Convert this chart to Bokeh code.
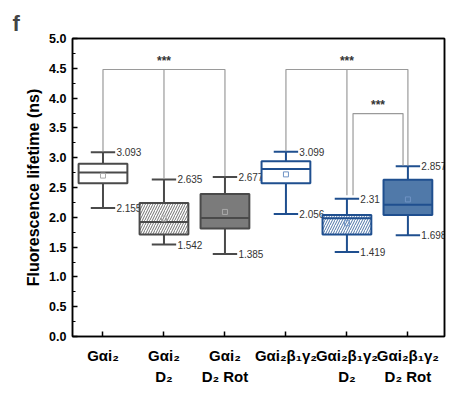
from bokeh.plotting import figure
from bokeh.models import Range1d, FixedTicker, LinearAxis, CustomJSTickFormatter
from bokeh.core.properties import value
from bokeh.embed import file_html
from bokeh.resources import INLINE

# ---- data ----
line1 = ["Gαi₂", "Gαi₂", "Gαi₂", "Gαi₂β₁γ₂", "Gαi₂β₁γ₂", "Gαi₂β₁γ₂"]
line2 = ["", "D₂", "D₂ Rot", "", "D₂", "D₂ Rot"]
xpos = [1, 2, 3, 4, 5, 6]
whisker_low = [2.155, 1.542, 1.385, 2.056, 1.419, 1.698]
q1 = [2.57, 1.71, 1.81, 2.57, 1.71, 2.04]
median = [2.75, 1.92, 1.99, 2.81, 1.985, 2.21]
q3 = [2.90, 2.24, 2.39, 2.94, 2.04, 2.63]
whisker_high = [3.093, 2.635, 2.677, 3.099, 2.31, 2.857]
mean = [2.70, 1.98, 2.09, 2.72, 1.90, 2.30]
low_text = ["2.155", "1.542", "1.385", "2.056", "1.419", "1.698"]
high_text = ["3.093", "2.635", "2.677", "3.099", "2.31", "2.857"]

# significance brackets: (x positions, top level, leg ends)
bracket_x = [[1, 2, 3], [4, 5, 6], [5.1, 5.92]]
bracket_top = [4.48, 4.48, 3.74]
bracket_ends = [[3.11, 2.65, 2.69], [3.11, 2.37, 2.87], [2.37, 2.87]]
bracket_text = ["***", "***", "***"]

GRAY = "#4a4a4a"
BLUE = "#1f4f8f"
edge = [GRAY, GRAY, GRAY, BLUE, BLUE, BLUE]
fill = ["white", "white", "#7b7b7b", "white", "white", "#5079a9"]
hatch = ["", "/", "", "", "/", ""]
mean_col = ["#aaaaaa", "#aaaaaa", "#aaaaaa", "#6f93c4", "#6f93c4", "#6f93c4"]

FONT = "Liberation Sans"

p = figure(width=452, height=402, output_backend="svg", toolbar_location=None,
           x_range=Range1d(0.5, 6.6), y_range=Range1d(0, 5.0),
           min_border_left=72, min_border_right=8, min_border_top=38, min_border_bottom=66)
p.grid.visible = False
p.outline_line_color = "black"
p.outline_line_width = 1.5

# title "f"
p.title.text = "f"
p.title.text_font = FONT
p.title.text_font_size = "22px"
p.title.text_font_style = "bold"
p.title.align = "left"
p.title.offset = -60
p.title.standoff = 6

# boxes
for i in range(6):
    x = xpos[i]
    p.segment(x0=[x, x], y0=[q3[i], q1[i]], x1=[x, x], y1=[whisker_high[i], whisker_low[i]],
              line_color=edge[i], line_width=2)
    p.segment(x0=[x - 0.2, x - 0.2], y0=[whisker_high[i], whisker_low[i]],
              x1=[x + 0.2, x + 0.2], y1=[whisker_high[i], whisker_low[i]],
              line_color=edge[i], line_width=2)
    kw = {}
    if hatch[i]:
        kw = dict(hatch_pattern=hatch[i], hatch_color=edge[i], hatch_scale=5, hatch_weight=0.8)
    p.vbar(x=[x], width=0.8, bottom=[q1[i]], top=[q3[i]], fill_color=fill[i],
           line_color=edge[i], line_width=2, **kw)
    p.segment(x0=[x - 0.4], y0=[median[i]], x1=[x + 0.4], y1=[median[i]],
              line_color=edge[i], line_width=2)
    p.scatter(x=[x], y=[mean[i]], marker="square", size=5, fill_color=None,
              line_color=mean_col[i], line_width=1)
    p.text(x=[x + 0.22, x + 0.22], y=[whisker_high[i], whisker_low[i]],
           text=[high_text[i], low_text[i]], text_font=value(FONT), text_font_size="10px",
           text_color="#333333", text_baseline="middle", text_align="left")

# brackets
for bx, top, ends, txt in zip(bracket_x, bracket_top, bracket_ends, bracket_text):
    xs = [[bx[0], bx[0], bx[-1], bx[-1]]]
    ys = [[ends[0], top, top, ends[-1]]]
    for k in range(1, len(bx) - 1):
        xs.append([bx[k], bx[k]])
        ys.append([top, ends[k]])
    p.multi_line(xs=xs, ys=ys, line_color="#9a9a9a", line_width=1.2)
    p.text(x=[(bx[0] + bx[-1]) / 2], y=[top + 0.03], text=[txt], text_font=value(FONT),
           text_font_size="12px", text_font_style="bold", text_color="#333333",
           text_align="center", text_baseline="bottom")

# axes
p.xaxis.ticker = FixedTicker(ticks=xpos)
p.xaxis.major_label_overrides = {x: t for x, t in zip(xpos, line1)}
p.yaxis.ticker = FixedTicker(ticks=[i * 0.5 for i in range(11)],
                             minor_ticks=[0.25 + i * 0.5 for i in range(10)])
p.yaxis.formatter = CustomJSTickFormatter(code="return tick.toFixed(1);")
for ax in (p.xaxis, p.yaxis):
    ax.axis_line_color = "black"
    ax.axis_line_width = 1.5
    ax.major_tick_in = 5
    ax.major_tick_out = 0
    ax.minor_tick_in = 3
    ax.minor_tick_out = 0
    ax.major_tick_line_color = "black"
    ax.major_tick_line_width = 1.5
    ax.minor_tick_line_color = "black"
    ax.major_label_text_font = FONT
    ax.major_label_text_font_style = "bold"
    ax.major_label_text_color = "black"
p.xaxis.minor_tick_line_color = None
p.xaxis.major_label_text_font_size = "15px"
p.xaxis.major_label_standoff = 10
p.yaxis.major_label_text_font_size = "12.5px"
p.yaxis.major_label_standoff = 6
p.yaxis.axis_label = "Fluorescence lifetime (ns)"
p.yaxis.axis_label_text_font = FONT
p.yaxis.axis_label_text_font_style = "bold"
p.yaxis.axis_label_text_font_size = "16px"
p.yaxis.axis_label_standoff = 4
p.yaxis.axis_label_text_color = "black"

# second line of category labels
ax2 = LinearAxis(ticker=FixedTicker(ticks=[x for x, t in zip(xpos, line2) if t]),
                 major_label_overrides={x: t for x, t in zip(xpos, line2) if t})
ax2.axis_line_color = None
ax2.major_tick_line_color = None
ax2.minor_tick_line_color = None
ax2.major_label_text_font = FONT
ax2.major_label_text_font_style = "bold"
ax2.major_label_text_font_size = "15px"
ax2.major_label_text_color = "black"
ax2.major_label_standoff = -5
p.add_layout(ax2, "below")

# top and right frame lines
for loc in ("above", "right"):
    a = LinearAxis(ticker=FixedTicker(ticks=[]))
    a.axis_line_color = "black"
    a.axis_line_width = 1.5
    a.major_tick_line_color = None
    a.minor_tick_line_color = None
    a.major_label_text_font_size = "0px"
    a.major_label_standoff = 0
    p.add_layout(a, loc)

open("out.html", "w").write(file_html(p, INLINE))
